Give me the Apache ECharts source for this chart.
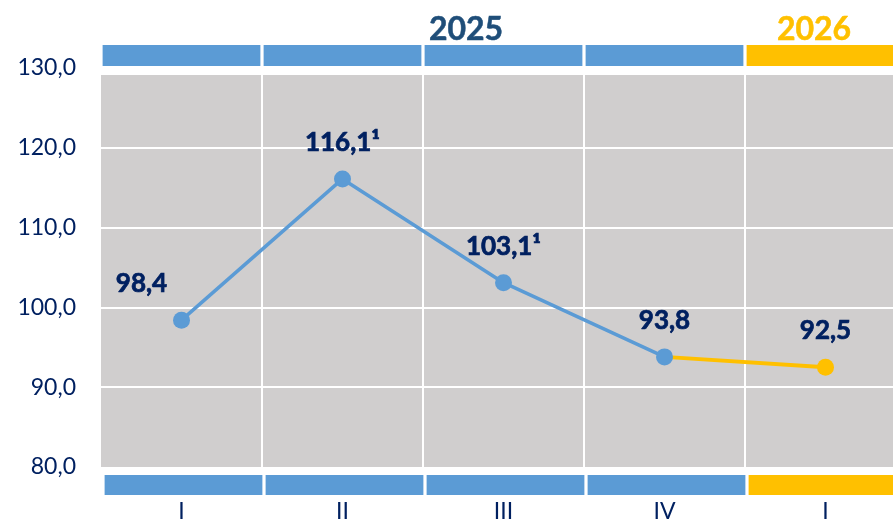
<!DOCTYPE html>
<html><head><meta charset="utf-8">
<script src="https://cdn.jsdelivr.net/npm/echarts@6/dist/echarts.min.js"></script>
<style>html,body{margin:0;padding:0;background:#fff;overflow:hidden}#c{width:893px;height:524px}</style>
</head><body><div id="c"></div>
<script>
const quarters = ['I', 'II', 'III', 'IV', 'I'];
const years = ['2025', '2025', '2025', '2025', '2026'];
const indexValues = [98.4, 116.1, 103.1, 93.8, null];
const forecastValues = [null, null, null, 93.8, 92.5];
const footnotes = ['', '\u00B9', '\u00B9', '', ''];
const yTicks = [80, 90, 100, 110, 120, 130];
const bandValues = [1, 1, 1, 1, 1];
const yearLabels = ['2025', '2026'];

const NAVY = '#002060';
const BLUE = '#5B9BD5';
const GOLD = '#FFC000';
const bandColor = { '2025': BLUE, '2026': GOLD };
const yearTextColor = { '2025': '#1F4E79', '2026': GOLD };
const yearTextX = { '2025': 461, '2026': 809 };
const FONT = 'Lato';
const PLOT_W = 805;

const fmt = v => v.toFixed(1).replace('.', ',');
const splitColors = ['rgba(0,0,0,0)', '#fff', '#fff', '#fff', '#fff', 'rgba(0,0,0,0)'];
const labelStyle = {
  color: NAVY, fontSize: 26, fontWeight: 'bold', fontFamily: FONT,
  textBorderColor: NAVY, textBorderWidth: 0.7
};

const chart = echarts.init(document.getElementById('c'), null, { renderer: 'canvas' });
chart.setOption({
  animation: false,
  backgroundColor: '#fff',
  title: yearLabels.map(y => ({
    text: y,
    left: yearTextX[y],
    top: 9,
    textAlign: 'center',
    textStyle: {
      color: yearTextColor[y], fontSize: 32, fontWeight: 'bold', fontFamily: FONT,
      textBorderColor: yearTextColor[y], textBorderWidth: 0.5
    }
  })),
  grid: [
    { left: 101, width: PLOT_W, top: 75, bottom: 57, show: true, backgroundColor: '#D0CECE', borderWidth: 0, outerBoundsMode: 'none', containLabel: false },
    { left: 101, width: PLOT_W, top: 68, bottom: 57, outerBoundsMode: 'none', containLabel: false },
    { left: 101, width: PLOT_W, top: 45, height: 21, outerBoundsMode: 'none', containLabel: false },
    { left: 103, width: PLOT_W, top: 475, height: 20, outerBoundsMode: 'none', containLabel: false }
  ],
  xAxis: [
    { gridIndex: 0, type: 'category', data: quarters, show: false },
    {
      gridIndex: 1, type: 'category', data: quarters,
      axisLine: { show: false }, axisTick: { show: false },
      axisLabel: { margin: 33, fontSize: 23, color: NAVY, fontFamily: FONT },
      splitLine: { show: true, lineStyle: { color: splitColors, width: 2 } }
    },
    { gridIndex: 2, type: 'category', data: quarters, show: false },
    { gridIndex: 3, type: 'category', data: quarters, show: false }
  ],
  yAxis: [
    { gridIndex: 0, type: 'value', min: 0, max: 1, show: false },
    {
      gridIndex: 1, type: 'value',
      min: yTicks[0], max: yTicks[yTicks.length - 1], interval: 10,
      axisLine: { show: false }, axisTick: { show: false },
      axisLabel: { formatter: v => fmt(v), margin: 25, fontSize: 23, color: NAVY, fontFamily: FONT },
      splitLine: { show: true, lineStyle: { color: splitColors, width: 2 } }
    },
    { gridIndex: 2, type: 'value', min: 0, max: 1, show: false },
    { gridIndex: 3, type: 'value', min: 0, max: 1, show: false }
  ],
  series: [
    {
      type: 'bar', xAxisIndex: 2, yAxisIndex: 2, silent: true, barCategoryGap: '2%',
      data: bandValues.map((v, i) => ({ value: v, itemStyle: { color: bandColor[years[i]] } }))
    },
    {
      type: 'bar', xAxisIndex: 3, yAxisIndex: 3, silent: true, barCategoryGap: '2%',
      data: bandValues.map((v, i) => ({ value: v, itemStyle: { color: bandColor[years[i]] } }))
    },
    {
      type: 'line', xAxisIndex: 1, yAxisIndex: 1,
      data: forecastValues,
      symbol: 'circle',
      symbolSize: (v, p) => (p.dataIndex === 3 ? 0 : 17),
      lineStyle: { color: GOLD, width: 4 },
      itemStyle: { color: GOLD },
      label: Object.assign({
        show: true, position: 'top', distance: 15,
        formatter: p => (p.dataIndex === 3 ? '' : fmt(p.value) + footnotes[p.dataIndex])
      }, labelStyle)
    },
    {
      type: 'line', xAxisIndex: 1, yAxisIndex: 1,
      data: indexValues.map((v, i) => (i === 0 ? { value: v, label: { offset: [-40, 0] } } : v)),
      symbol: 'circle', symbolSize: 17, showAllSymbol: true,
      lineStyle: { color: BLUE, width: 3.5 },
      itemStyle: { color: BLUE },
      label: Object.assign({
        show: true, position: 'top', distance: 15,
        formatter: p => fmt(p.value) + footnotes[p.dataIndex]
      }, labelStyle)
    }
  ]
});
</script>
</body></html>
